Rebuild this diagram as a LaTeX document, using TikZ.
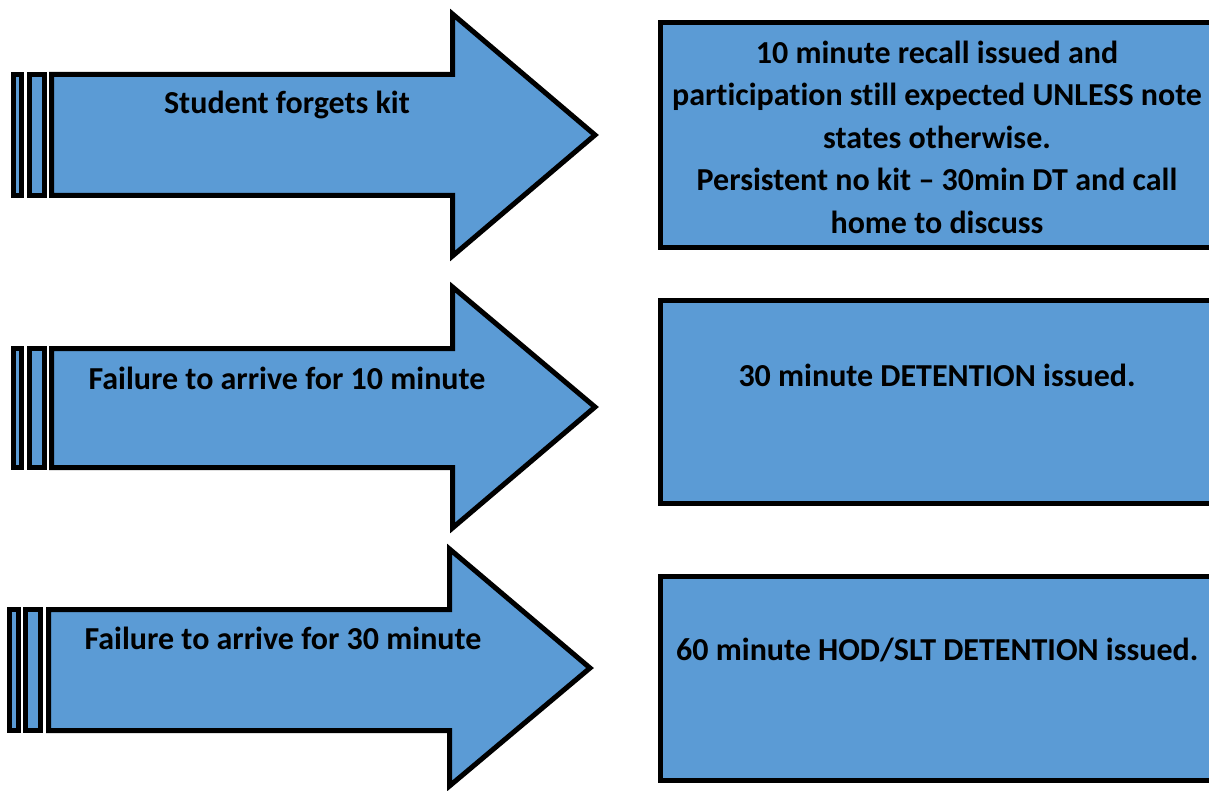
\documentclass[tikz,border=0pt]{standalone}
\usepackage{fontspec}
\setmainfont{Carlito}[RawFeature=-liga]
\definecolor{officeblue}{HTML}{5B9BD5}
\tikzset{
  shapeline/.style={draw=black, line width=5pt, fill=officeblue, line join=miter},
  lbl/.style={font=\fontsize{32}{42.5}\selectfont\bfseries, align=center, inner sep=0pt},
}
\begin{document}
\begin{tikzpicture}[x=1pt,y=-1pt]
\useasboundingbox (0,0) rectangle (1209,791);
\clip (0,0) rectangle (1209,791);
% arrow 1
\draw[shapeline] (13.5,74.5) rectangle (21.5,195.5);
\draw[shapeline] (29.5,74.5) rectangle (44.5,195.5);
\draw[shapeline] (51.5,74.5) -- (452.5,74.5) -- (452.5,14) -- (595,135) -- (452.5,256) -- (452.5,195.5) -- (51.5,195.5) -- cycle;
% arrow 2
\draw[shapeline] (13.5,348.5) rectangle (21.5,467.5);
\draw[shapeline] (29.5,348.5) rectangle (44.5,467.5);
\draw[shapeline] (51.5,348.5) -- (452.5,348.5) -- (452.5,287) -- (595,407) -- (452.5,528) -- (452.5,467.5) -- (51.5,467.5) -- cycle;
% arrow 3
\draw[shapeline] (9.5,609.5) rectangle (18.5,730.5);
\draw[shapeline] (25.5,609.5) rectangle (40.5,730.5);
\draw[shapeline] (48.5,609.5) -- (449.5,609.5) -- (449.5,549) -- (590,668) -- (449.5,786) -- (449.5,730.5) -- (48.5,730.5) -- cycle;
% boxes
\draw[shapeline] (660,22.5) rectangle (1215,247.5);
\draw[shapeline] (660,300.5) rectangle (1215,503.5);
\draw[shapeline] (660,576.5) rectangle (1215,780.5);
% labels
\node[lbl] (a1) at (287,105) {Student forgets kit};
\node[lbl] (a2) at (287,378) {Failure to arrive for 10 minute};
\node[lbl] (a3) at (283,638) {Failure to arrive for 30 minute};
\node[lbl] (b1) at (937,137) {10 minute recall issued and\\participation still expected UNLESS note\\states otherwise.\\Persistent no kit -- 30min DT and call\\home to discuss};
\node[lbl] (b2) at (937,375) {30 minute DETENTION issued.};
\node[lbl, anchor=west] (b3) at (676,650) {60 minute HOD/SLT DETENTION issued.};
\end{tikzpicture}
\end{document}
